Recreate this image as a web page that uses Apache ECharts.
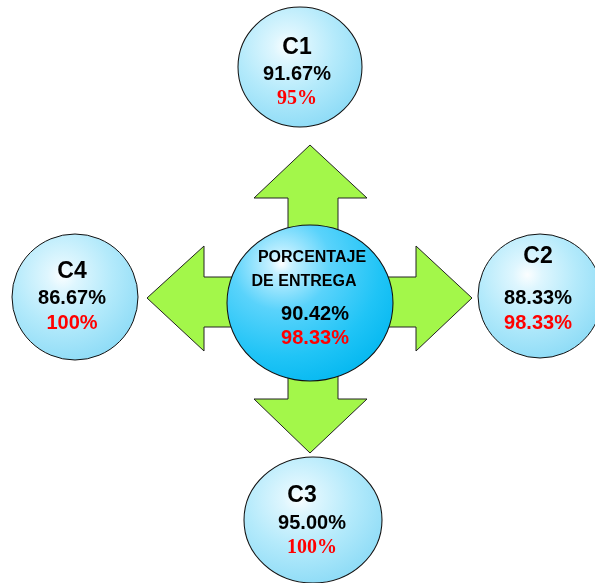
<!DOCTYPE html>
<html>
<head>
<meta charset="utf-8">
<script src="https://cdn.jsdelivr.net/npm/echarts@6/dist/echarts.min.js"></script>
<style>
  html, body { margin: 0; padding: 0; background: #ffffff; }
  #chart { width: 595px; height: 583px; }
</style>
</head>
<body>
<div id="chart"></div>
<script>
// Delivery percentage per centre: achieved value and target value
const centros = ['C1', 'C2', 'C3', 'C4'];
const entregaReal = [91.67, 88.33, 95.00, 86.67];
const entregaMeta = [95, 98.33, 100, 100];
const tituloTotal = ['PORCENTAJE', 'DE ENTREGA'];
const totalReal = 90.42;
const totalMeta = 98.33;

// Diagram layout (pixel space): node centres, radii, label placement
const nodeLayout = {
  C1: { cx: 300, cy: 67,  rx: 62, ry: 60, dx: -3, dy: 6,   lh: [27, 25, 25], titleShift: 0,  metaFont: 'Liberation Serif' },
  C2: { cx: 540, cy: 296, rx: 62, ry: 62, dx: -2, dy: -14, lh: [57, 25, 25], titleShift: 0,  metaFont: 'Liberation Sans' },
  C3: { cx: 313, cy: 520, rx: 69, ry: 63, dx: -1, dy: 1,   lh: [29, 25, 25], titleShift: 20, metaFont: 'Liberation Serif' },
  C4: { cx: 75,  cy: 297, rx: 63, ry: 63, dx: -3, dy: 0,   lh: [27, 25, 25], titleShift: 0,  metaFont: 'Liberation Sans' }
};
const hubLayout = { cx: 310, cy: 303, rx: 83, ry: 78, dx: -10, dy: -9 };

// Four-way arrow outline behind the hub
const arrowShape = [
  [310, 145], [367, 198], [338, 198], [338, 277], [416, 277], [416, 246],
  [472, 298], [416, 351], [416, 327], [338, 327], [338, 399], [367, 399],
  [310, 453], [254, 399], [288, 399], [288, 327], [204, 327], [204, 351],
  [147, 298], [204, 246], [204, 277], [288, 277], [288, 198], [254, 198]
];

const ellipsePath = 'path://M0,50 A50,50 0 1,1 100,50 A50,50 0 1,1 0,50 Z';

const fmtReal = v => v.toFixed(2) + '%';
const fmtMeta = v => (Number.isInteger(v) ? String(v) : v.toFixed(2)) + '%';

const outerFill = {
  type: 'radial', x: 0.4, y: 0.33, r: 0.78,
  colorStops: [
    { offset: 0, color: '#fbfeff' },
    { offset: 0.15, color: '#def6fe' },
    { offset: 0.5, color: '#b4eafb' },
    { offset: 1, color: '#84d8f5' }
  ]
};
const hubFill = {
  type: 'radial', x: 0.33, y: 0.25, r: 0.85,
  colorStops: [
    { offset: 0, color: '#ffffff' },
    { offset: 0.08, color: '#c4f0ff' },
    { offset: 0.35, color: '#5ad3fb' },
    { offset: 0.7, color: '#20c4f6' },
    { offset: 1, color: '#00b6ef' }
  ]
};

const nodeData = centros.map((name, i) => {
  const L = nodeLayout[name];
  return {
    name: name,
    value: [L.cx, L.cy],
    symbolSize: [L.rx * 2, L.ry * 2],
    itemStyle: { color: outerFill, borderColor: '#111', borderWidth: 1, opacity: 1 },
    label: {
      show: true,
      position: 'inside',
      offset: [L.dx, L.dy],
      formatter: '{t|' + name + '}\n{v|' + fmtReal(entregaReal[i]) + '}\n{m|' + fmtMeta(entregaMeta[i]) + '}',
      rich: {
        t: { fontFamily: 'Liberation Sans', fontWeight: 'bold', fontSize: 23, color: '#000',
             lineHeight: L.lh[0], padding: [0, L.titleShift, 0, 0] },
        v: { fontFamily: 'Liberation Sans', fontWeight: 'bold', fontSize: 20, color: '#000', lineHeight: L.lh[1] },
        m: { fontFamily: L.metaFont, fontWeight: 'bold', fontSize: 20, color: '#ff0000', lineHeight: L.lh[2] }
      }
    }
  };
});

const hubData = {
  name: 'total',
  value: [hubLayout.cx, hubLayout.cy],
  symbolSize: [hubLayout.rx * 2, hubLayout.ry * 2],
  itemStyle: { color: hubFill, borderColor: '#111', borderWidth: 1, opacity: 1 },
  label: {
    show: true,
    position: 'inside',
    offset: [hubLayout.dx, hubLayout.dy],
    formatter: '{a|' + tituloTotal[0] + '}\n{b|' + tituloTotal[1] + '}\n{v|' + fmtReal(totalReal) + '}\n{m|' + fmtMeta(totalMeta) + '}',
    rich: {
      a: { fontFamily: 'Liberation Sans', fontWeight: 'bold', fontSize: 16, color: '#000', lineHeight: 24, padding: [0, 0, 0, 24] },
      b: { fontFamily: 'Liberation Sans', fontWeight: 'bold', fontSize: 16, color: '#000', lineHeight: 24, padding: [0, 0, 0, 8] },
      v: { fontFamily: 'Liberation Sans', fontWeight: 'bold', fontSize: 20, color: '#000', lineHeight: 40, padding: [0, 0, 0, 30] },
      m: { fontFamily: 'Liberation Sans', fontWeight: 'bold', fontSize: 20, color: '#ff0000', lineHeight: 8, padding: [0, 0, 0, 30] }
    }
  }
};

const chart = echarts.init(document.getElementById('chart'), null, { renderer: 'canvas' });
chart.setOption({
  animation: false,
  backgroundColor: '#ffffff',
  grid: { left: 0, right: 0, top: 0, bottom: 0 },
  xAxis: { type: 'value', min: 0, max: 595, show: false },
  yAxis: { type: 'value', min: 0, max: 583, inverse: true, show: false },
  graphic: [{
    type: 'polygon',
    z: 0,
    silent: true,
    shape: { points: arrowShape },
    style: { fill: '#a3f74a', stroke: '#222', lineWidth: 1 }
  }],
  series: [{
    type: 'scatter',
    z: 5,
    symbol: ellipsePath,
    clip: true,
    itemStyle: { opacity: 1 },
    emphasis: { disabled: true },
    data: nodeData.concat([hubData])
  }]
});
</script>
</body>
</html>
